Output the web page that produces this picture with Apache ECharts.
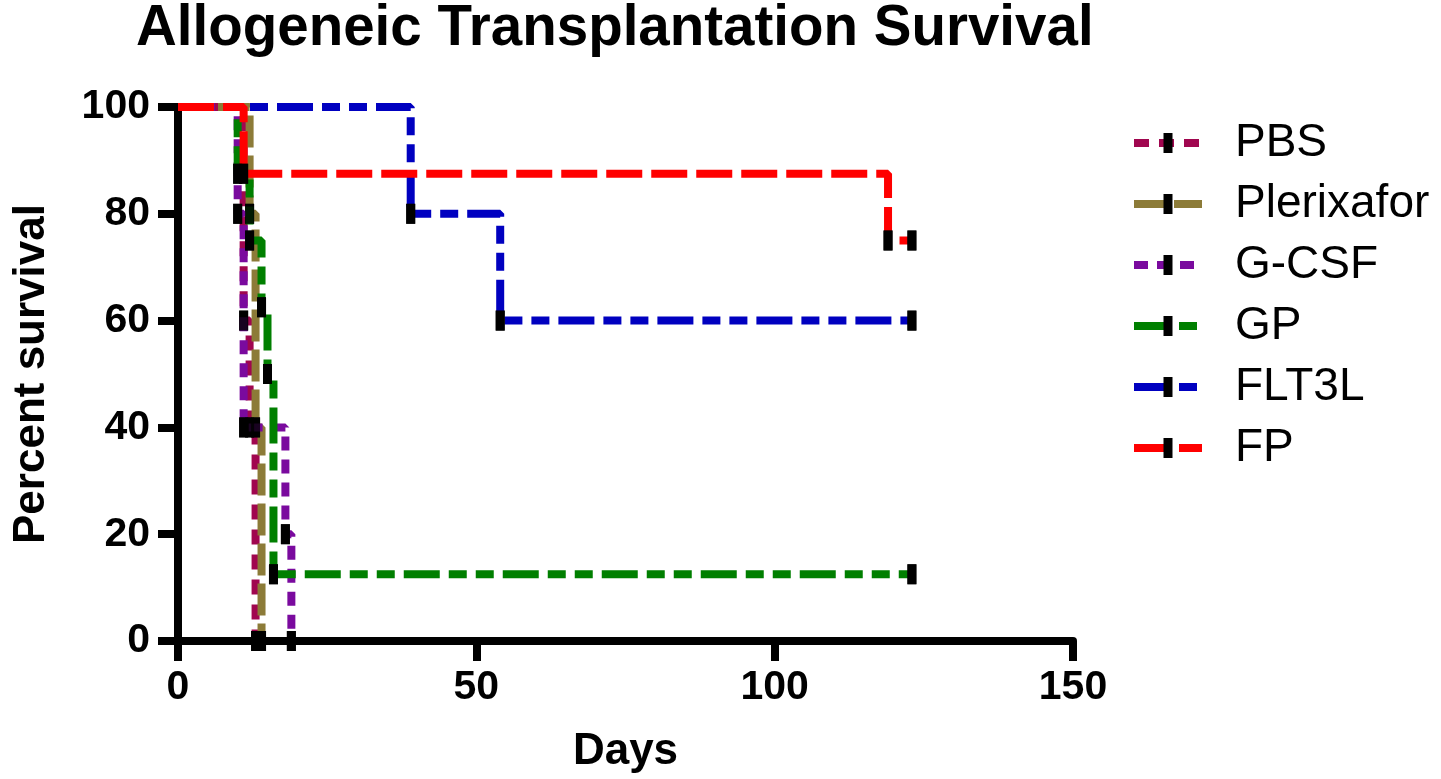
<!DOCTYPE html>
<html><head><meta charset="utf-8">
<script src="https://cdn.jsdelivr.net/npm/echarts@6/dist/echarts.min.js"></script>
<style>html,body{margin:0;padding:0;background:#fff}#c{width:1441px;height:779px}</style>
</head><body><div id="c"></div>
<script>
// ---- data ----
const seriesNames = ['PBS', 'Plerixafor', 'G-CSF', 'GP', 'FLT3L', 'FP'];
const pbsDays = [0, 11, 12, 13];
const pbsSurv = [100, 60, 40, 0];
const plerixaforDays = [0, 12, 13, 14];
const plerixaforSurv = [100, 80, 40, 0];
const gcsfDays = [0, 10, 11, 18, 19];
const gcsfSurv = [100, 80, 40, 20, 0];
const gpDays = [0, 10, 12, 14, 15, 16, 123];
const gpSurv = [100, 87.5, 75, 62.5, 50, 12.5, 12.5];
const flt3lDays = [0, 39, 54, 123];
const flt3lSurv = [100, 80, 60, 60];
const fpDays = [0, 11, 119, 123];
const fpSurv = [100, 87.5, 75, 75];
const xTicks = [0, 50, 100, 150];
const yTicks = [0, 20, 40, 60, 80, 100];

// ---- styles ----
const colors = ['#A0064F', '#8C7B38', '#7A0A9E', '#007F00', '#0000C0', '#FF0000'];
const dashes = [[15, 10], [32, 8], [14, 9], [36, 9, 18, 9, 18, 9], [36, 9, 18, 9, 18, 9], [36, 9]];
const FONT = '"Liberation Sans", Arial, sans-serif';
const TICK = 'path://M0,0 M20,0 M0,20 M5.5,0 L14.5,0 L14.5,20 L5.5,20 Z';

const allDays = [pbsDays, plerixaforDays, gcsfDays, gpDays, flt3lDays, fpDays];
const allSurv = [pbsSurv, plerixaforSurv, gcsfSurv, gpSurv, flt3lSurv, fpSurv];

function kmData(days, surv) {
  return days.map((d, i) => i === 0 ? { value: [d, surv[i]], symbol: 'none' } : [d, surv[i]]);
}

const series = seriesNames.map((name, k) => ({
  type: 'line',
  name: name,
  step: 'end',
  data: kmData(allDays[k], allSurv[k]),
  symbol: TICK,
  symbolSize: 20,
  showSymbol: true,
  itemStyle: { color: '#000' },
  lineStyle: { color: colors[k], width: 8, type: dashes[k], cap: 'butt' },
  emphasis: { disabled: true },
  z: 2 + k * 0.01
}));

const tickPts = [];
allDays.forEach((days, k) => days.forEach((d, i) => { if (i > 0) tickPts.push([d, allSurv[k][i]]); }));
series.push({
  type: 'scatter', name: 'ticks', data: tickPts, symbol: TICK, symbolSize: 20,
  itemStyle: { color: '#000' }, z: 5, silent: true, emphasis: { disabled: true }
});

const chart = echarts.init(document.getElementById('c'), null, { renderer: 'canvas' });
chart.setOption({
  animation: false,
  backgroundColor: '#fff',
  title: {
    text: 'Allogeneic Transplantation Survival',
    left: 136, top: 1, padding: 0,
    textStyle: { fontSize: 56.5, fontWeight: 'bold', color: '#000', fontFamily: FONT }
  },
  legend: {
    data: seriesNames,
    orient: 'vertical',
    left: 1130, top: 120,
    itemWidth: 68, itemHeight: 25, itemGap: 15,
    padding: 0,
    lineStyle: { width: 8 },
    textStyle: { fontSize: 46, lineHeight: 46, color: '#000', fontFamily: FONT, padding: [0, 0, 0, 28] },
    selectedMode: false
  },
  grid: { left: 178, right: 368, top: 107, bottom: 137, containLabel: false },
  xAxis: {
    type: 'value', min: xTicks[0], max: xTicks[xTicks.length - 1], interval: xTicks[1] - xTicks[0],
    name: 'Days', nameLocation: 'middle', nameGap: 89,
    nameTextStyle: { fontSize: 44, fontWeight: 'bold', color: '#000', fontFamily: FONT },
    axisLine: { show: true, onZero: false, lineStyle: { color: '#000', width: 8 } },
    axisTick: { show: true, length: 20, lineStyle: { color: '#000', width: 8 } },
    splitLine: { show: false },
    axisLabel: { fontSize: 41, fontWeight: 'bold', color: '#000', fontFamily: FONT, margin: 26 }
  },
  yAxis: {
    type: 'value', min: yTicks[0], max: yTicks[yTicks.length - 1], interval: yTicks[1] - yTicks[0],
    name: 'Percent survival', nameLocation: 'middle', nameGap: 124, nameRotate: 90,
    nameTextStyle: { fontSize: 44, fontWeight: 'bold', color: '#000', fontFamily: FONT },
    axisLine: { show: true, onZero: false, lineStyle: { color: '#000', width: 8 } },
    axisTick: { show: true, length: 20, lineStyle: { color: '#000', width: 8 } },
    splitLine: { show: false },
    axisLabel: { fontSize: 41, fontWeight: 'bold', color: '#000', fontFamily: FONT, margin: 28 }
  },
  series: series
});
</script></body></html>
